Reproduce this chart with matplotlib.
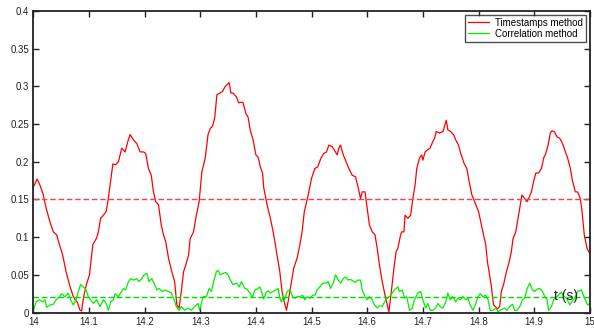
import matplotlib
matplotlib.use("Agg")
import matplotlib.pyplot as plt

plt.rcParams['font.family'] = ['Liberation Sans', 'DejaVu Sans']

# delay estimate from timestamps (red)
t_ts = [14.000, 14.007, 14.012, 14.018, 14.023, 14.030, 14.036, 14.042, 14.047, 14.051,
        14.054, 14.059, 14.065, 14.071, 14.075, 14.079, 14.084, 14.087, 14.090, 14.095,
        14.101, 14.107, 14.114, 14.117, 14.121, 14.126, 14.131, 14.135, 14.139, 14.143,
        14.148, 14.153, 14.159, 14.165, 14.170, 14.174, 14.180, 14.186, 14.192, 14.198,
        14.202, 14.207, 14.212, 14.216, 14.220, 14.225, 14.230, 14.234, 14.238, 14.243,
        14.249, 14.254, 14.258, 14.262, 14.266, 14.270, 14.274, 14.279, 14.282, 14.288,
        14.292, 14.298, 14.303, 14.309, 14.314, 14.318, 14.322, 14.326, 14.330, 14.335,
        14.340, 14.345, 14.348, 14.352, 14.355, 14.359, 14.365, 14.369, 14.374, 14.377,
        14.382, 14.386, 14.390, 14.395, 14.400, 14.404, 14.408, 14.412, 14.414, 14.418,
        14.420, 14.426, 14.431, 14.435, 14.438, 14.443, 14.447, 14.451, 14.455, 14.459,
        14.463, 14.468, 14.474, 14.479, 14.483, 14.487, 14.490, 14.494, 14.500, 14.506,
        14.511, 14.517, 14.522, 14.527, 14.531, 14.537, 14.543, 14.546, 14.549, 14.552,
        14.557, 14.561, 14.567, 14.573, 14.579, 14.584, 14.588, 14.591, 14.596, 14.600,
        14.604, 14.609, 14.614, 14.618, 14.622, 14.627, 14.632, 14.636, 14.639, 14.644,
        14.648, 14.652, 14.655, 14.660, 14.662, 14.666, 14.668, 14.673, 14.678, 14.682,
        14.686, 14.689, 14.694, 14.698, 14.700, 14.704, 14.709, 14.713, 14.718, 14.721,
        14.724, 14.730, 14.736, 14.739, 14.742, 14.745, 14.750, 14.755, 14.759, 14.764,
        14.768, 14.774, 14.779, 14.783, 14.788, 14.791, 14.795, 14.800, 14.804, 14.809,
        14.813, 14.816, 14.819, 14.823, 14.827, 14.830, 14.834, 14.838, 14.841, 14.845,
        14.850, 14.855, 14.859, 14.862, 14.867, 14.871, 14.875, 14.878, 14.883, 14.887,
        14.890, 14.895, 14.899, 14.903, 14.908, 14.913, 14.917, 14.920, 14.925, 14.929,
        14.932, 14.936, 14.941, 14.946, 14.949, 14.952, 14.956, 14.960, 14.965, 14.969,
        14.974, 14.978, 14.983, 14.986, 14.990, 14.995, 15.000]
v_ts = [0.166, 0.177, 0.169, 0.156, 0.139, 0.120, 0.107, 0.103, 0.090, 0.081,
        0.072, 0.054, 0.037, 0.023, 0.017, 0.014, 0.003, 0.002, 0.019, 0.036,
        0.050, 0.090, 0.099, 0.107, 0.125, 0.129, 0.134, 0.152, 0.174, 0.197,
        0.196, 0.200, 0.218, 0.213, 0.227, 0.236, 0.229, 0.224, 0.213, 0.213,
        0.211, 0.191, 0.182, 0.160, 0.147, 0.143, 0.116, 0.103, 0.094, 0.072,
        0.054, 0.041, 0.010, 0.006, 0.028, 0.054, 0.063, 0.076, 0.098, 0.107,
        0.125, 0.147, 0.187, 0.205, 0.236, 0.244, 0.247, 0.258, 0.289, 0.291,
        0.293, 0.300, 0.302, 0.305, 0.291, 0.291, 0.286, 0.278, 0.279, 0.278,
        0.264, 0.259, 0.241, 0.229, 0.209, 0.206, 0.193, 0.185, 0.166, 0.151,
        0.143, 0.125, 0.107, 0.090, 0.076, 0.054, 0.028, 0.014, 0.003, 0.019,
        0.037, 0.059, 0.072, 0.090, 0.107, 0.134, 0.143, 0.156, 0.178, 0.191,
        0.193, 0.205, 0.211, 0.213, 0.222, 0.220, 0.213, 0.209, 0.218, 0.222,
        0.209, 0.202, 0.191, 0.182, 0.180, 0.165, 0.151, 0.160, 0.160, 0.138,
        0.116, 0.107, 0.103, 0.085, 0.063, 0.041, 0.023, 0.010, 0.001, 0.032,
        0.059, 0.081, 0.085, 0.103, 0.107, 0.107, 0.129, 0.125, 0.129, 0.151,
        0.169, 0.191, 0.205, 0.209, 0.202, 0.213, 0.216, 0.218, 0.227, 0.231,
        0.240, 0.238, 0.240, 0.247, 0.255, 0.242, 0.240, 0.236, 0.229, 0.222,
        0.211, 0.198, 0.191, 0.174, 0.156, 0.151, 0.143, 0.134, 0.120, 0.103,
        0.090, 0.067, 0.054, 0.035, 0.010, 0.008, 0.005, 0.008, 0.028, 0.037,
        0.054, 0.067, 0.081, 0.098, 0.107, 0.125, 0.143, 0.156, 0.151, 0.147,
        0.151, 0.160, 0.174, 0.185, 0.185, 0.191, 0.205, 0.209, 0.222, 0.238,
        0.241, 0.240, 0.233, 0.231, 0.227, 0.222, 0.213, 0.205, 0.191, 0.174,
        0.160, 0.160, 0.151, 0.134, 0.103, 0.085, 0.078]

# delay estimate from cross-correlation (green)
t_cr = [14.000, 14.005, 14.011, 14.017, 14.021, 14.024, 14.030, 14.036, 14.041, 14.047,
        14.051, 14.057, 14.063, 14.067, 14.072, 14.077, 14.081, 14.085, 14.090, 14.095,
        14.099, 14.103, 14.108, 14.114, 14.120, 14.126, 14.131, 14.135, 14.139, 14.144,
        14.147, 14.153, 14.157, 14.162, 14.166, 14.171, 14.175, 14.180, 14.186, 14.190,
        14.195, 14.199, 14.204, 14.208, 14.213, 14.217, 14.222, 14.226, 14.232, 14.236,
        14.242, 14.248, 14.253, 14.257, 14.262, 14.266, 14.272, 14.278, 14.284, 14.290,
        14.296, 14.299, 14.305, 14.311, 14.316, 14.320, 14.324, 14.329, 14.332, 14.336,
        14.341, 14.346, 14.350, 14.354, 14.359, 14.365, 14.370, 14.374, 14.380, 14.384,
        14.389, 14.394, 14.398, 14.402, 14.407, 14.410, 14.414, 14.418, 14.422, 14.426,
        14.431, 14.436, 14.440, 14.443, 14.446, 14.449, 14.452, 14.456, 14.461, 14.466,
        14.470, 14.474, 14.479, 14.484, 14.488, 14.492, 14.497, 14.502, 14.506, 14.510,
        14.515, 14.520, 14.525, 14.530, 14.534, 14.539, 14.543, 14.548, 14.552, 14.557,
        14.561, 14.566, 14.570, 14.574, 14.579, 14.583, 14.588, 14.591, 14.596, 14.600,
        14.604, 14.609, 14.613, 14.618, 14.622, 14.627, 14.631, 14.636, 14.640, 14.645,
        14.649, 14.655, 14.658, 14.663, 14.667, 14.671, 14.676, 14.681, 14.685, 14.691,
        14.696, 14.700, 14.705, 14.709, 14.713, 14.718, 14.723, 14.727, 14.731, 14.736,
        14.741, 14.745, 14.749, 14.754, 14.759, 14.763, 14.767, 14.772, 14.777, 14.781,
        14.785, 14.790, 14.795, 14.799, 14.803, 14.808, 14.813, 14.817, 14.821, 14.826,
        14.831, 14.835, 14.841, 14.847, 14.851, 14.856, 14.861, 14.865, 14.869, 14.874,
        14.879, 14.883, 14.887, 14.892, 14.897, 14.901, 14.905, 14.910, 14.915, 14.919,
        14.923, 14.926, 14.931, 14.935, 14.940, 14.944, 14.949, 14.953, 14.958, 14.964,
        14.968, 14.973, 14.978, 14.985, 14.990, 14.996, 15.000]
v_cr = [0.003, 0.014, 0.017, 0.014, 0.017, 0.007, 0.010, 0.011, 0.017, 0.021,
        0.025, 0.021, 0.026, 0.017, 0.010, 0.017, 0.028, 0.037, 0.034, 0.030,
        0.021, 0.017, 0.012, 0.017, 0.008, 0.017, 0.012, 0.003, 0.014, 0.017,
        0.025, 0.021, 0.026, 0.032, 0.030, 0.041, 0.045, 0.043, 0.045, 0.041,
        0.045, 0.050, 0.052, 0.041, 0.045, 0.039, 0.030, 0.032, 0.028, 0.030,
        0.028, 0.026, 0.017, 0.008, 0.003, 0.008, 0.003, 0.006, 0.003, 0.008,
        0.012, 0.003, 0.021, 0.021, 0.032, 0.028, 0.041, 0.054, 0.056, 0.050,
        0.052, 0.053, 0.050, 0.043, 0.037, 0.039, 0.034, 0.041, 0.032, 0.031,
        0.026, 0.020, 0.030, 0.031, 0.034, 0.028, 0.018, 0.026, 0.029, 0.026,
        0.028, 0.030, 0.032, 0.019, 0.014, 0.021, 0.017, 0.028, 0.030, 0.021,
        0.019, 0.021, 0.021, 0.023, 0.017, 0.021, 0.019, 0.023, 0.023, 0.030,
        0.034, 0.039, 0.039, 0.041, 0.032, 0.039, 0.050, 0.043, 0.039, 0.045,
        0.047, 0.043, 0.044, 0.042, 0.040, 0.043, 0.043, 0.030, 0.021, 0.017,
        0.021, 0.017, 0.010, 0.006, 0.009, 0.008, 0.014, 0.019, 0.021, 0.026,
        0.030, 0.034, 0.028, 0.030, 0.019, 0.021, 0.003, 0.006, 0.017, 0.026,
        0.028, 0.017, 0.006, 0.012, 0.003, 0.003, 0.006, 0.012, 0.008, 0.006,
        0.014, 0.026, 0.017, 0.021, 0.014, 0.019, 0.017, 0.021, 0.017, 0.019,
        0.010, 0.003, 0.012, 0.021, 0.025, 0.021, 0.023, 0.017, 0.003, 0.003,
        0.006, 0.001, 0.004, 0.006, 0.003, 0.008, 0.011, 0.003, 0.003, 0.008,
        0.017, 0.019, 0.031, 0.039, 0.030, 0.028, 0.031, 0.032, 0.028, 0.021,
        0.017, 0.003, 0.008, 0.017, 0.020, 0.024, 0.027, 0.022, 0.019, 0.010,
        0.015, 0.019, 0.028, 0.030, 0.020, 0.010, 0.012]

mean_ts = 0.150
mean_cr = 0.021

x_ticks = [14, 14.1, 14.2, 14.3, 14.4, 14.5, 14.6, 14.7, 14.8, 14.9, 15]
x_labels = ['14', '14.1', '14.2', '14.3', '14.4', '14.5', '14.6', '14.7', '14.8', '14.9', '15']
y_ticks = [0, 0.05, 0.1, 0.15, 0.2, 0.25, 0.3, 0.35, 0.4]
y_labels = ['0', '0.05', '0.1', '0.15', '0.2', '0.25', '0.3', '0.35', '0.4']

fig = plt.figure(figsize=(5.94, 3.29), dpi=100)
ax = fig.add_axes((0.056, 0.050, 0.937, 0.917))

ax.plot(t_ts, v_ts, color='#ff0000', lw=0.9, label='Timestamps method')
ax.plot(t_cr, v_cr, color='#00ee00', lw=0.9, label='Correlation method')
ax.axhline(mean_ts, color='#ff4040', lw=1.0, ls=(0, (4, 2)))
ax.axhline(mean_cr, color='#00dd00', lw=1.0, ls=(0, (4, 2)))

ax.set_xlim(14, 15)
ax.set_ylim(0, 0.4)
ax.set_xticks(x_ticks)
ax.set_xticklabels(x_labels)
ax.set_yticks(y_ticks)
ax.set_yticklabels(y_labels)
ax.tick_params(direction='in', top=True, right=True, length=4, width=1,
               labelsize=7, colors='#222222', pad=3)
for s in ax.spines.values():
    s.set_linewidth(1.3)
    s.set_color('#222222')

ax.text(0.958, 0.055, 't (s)', transform=ax.transAxes, ha='center', va='center',
        fontsize=10, color='#222222')

leg = ax.legend(loc='upper right', fontsize=7, frameon=True, fancybox=False,
                borderpad=0.3, handlelength=2.2, handletextpad=0.6, labelspacing=0.1,
                borderaxespad=0.4)
leg.get_frame().set_edgecolor('#222222')
leg.get_frame().set_linewidth(1.0)

fig.savefig('out.png', dpi=100)
